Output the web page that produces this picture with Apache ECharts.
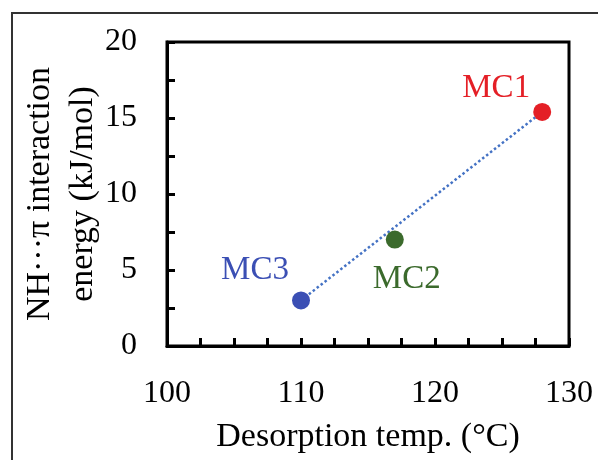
<!DOCTYPE html>
<html>
<head>
<meta charset="utf-8">
<script src="https://cdn.jsdelivr.net/npm/echarts@6/dist/echarts.min.js"></script>
<style>
html,body{margin:0;padding:0;background:#fff;}
#chart{width:599px;height:460px;}
</style>
</head>
<body>
<div id="chart"></div>
<script>
// Data
var names = ['MC1', 'MC2', 'MC3'];
var temps = [128, 117, 110];           // Desorption temp. (°C)
var energies = [15.4, 7.0, 3.0];       // NH···π interaction energy (kJ/mol)
var colors = ['#e41f26', '#3b6a2c', '#3b4fb4'];
var labelOffsets = [[-46, -24], [12, 40], [-46, -30]];
var xTickLabels = [100, 110, 120, 130];
var yTickLabels = [0, 5, 10, 15, 20];
var trendNames = ['MC3', 'MC1'];

var FONT = '"Liberation Serif", "Times New Roman", serif';

var scatterData = names.map(function (n, i) {
  return {
    name: n,
    value: [temps[i], energies[i]],
    itemStyle: { color: colors[i], opacity: 1 },
    label: {
      show: true,
      formatter: n,
      position: 'inside',
      align: 'center',
      verticalAlign: 'middle',
      offset: labelOffsets[i],
      color: colors[i],
      fontFamily: FONT,
      fontSize: 33
    }
  };
});
var trendData = trendNames.map(function (n) {
  var i = names.indexOf(n);
  return [temps[i], energies[i]];
});

var chart = echarts.init(document.getElementById('chart'), null, { renderer: 'canvas' });
chart.setOption({
  animation: false,
  backgroundColor: '#fff',
  grid: {
    left: 167, top: 42, width: 402, height: 304,
    show: true, borderColor: '#000', borderWidth: 3, backgroundColor: 'transparent'
  },
  graphic: [{
    type: 'polyline',
    shape: { points: [[12, 460], [12, 13], [598, 13]] },
    style: { stroke: '#333', lineWidth: 2, fill: null },
    silent: true
  }],
  xAxis: {
    type: 'value',
    min: 100, max: 130, interval: 2.5,
    name: 'Desorption temp. (°C)',
    nameLocation: 'middle',
    nameGap: 74,
    nameMoveOverlap: false,
    nameTextStyle: { fontFamily: FONT, fontSize: 34, color: '#000' },
    axisLine: { show: true, lineStyle: { color: '#000', width: 3 } },
    axisTick: { show: true, inside: true, length: 8, lineStyle: { color: '#000', width: 3 } },
    splitLine: { show: false },
    axisLabel: {
      margin: 32,
      fontFamily: FONT, fontSize: 32, color: '#000',
      showMinLabel: true, showMaxLabel: true,
      formatter: function (v) { return xTickLabels.indexOf(v) >= 0 ? String(v) : ''; }
    }
  },
  yAxis: {
    type: 'value',
    min: 0, max: 20, interval: 2.5,
    name: 'NH···π interaction\nenergy (kJ/mol)',
    nameLocation: 'middle',
    nameRotate: 90,
    nameGap: 62,
    nameMoveOverlap: false,
    nameTextStyle: { fontFamily: FONT, fontSize: 34, color: '#000', lineHeight: 43 },
    axisLine: { show: true, lineStyle: { color: '#000', width: 3 } },
    axisTick: { show: true, inside: true, length: 8, lineStyle: { color: '#000', width: 3 } },
    splitLine: { show: false },
    axisLabel: {
      margin: 30,
      fontFamily: FONT, fontSize: 32, color: '#000',
      showMinLabel: true, showMaxLabel: true,
      formatter: function (v) { return yTickLabels.indexOf(v) >= 0 ? String(v) : ''; }
    }
  },
  series: [{
    type: 'line',
    data: trendData,
    symbol: 'none',
    lineStyle: { type: 'dotted', color: '#4472c4', width: 2.5 },
    z: 1,
    silent: true
  }, {
    type: 'scatter',
    data: scatterData,
    symbol: 'circle',
    symbolSize: 18,
    z: 3
  }]
});
</script>
</body>
</html>
